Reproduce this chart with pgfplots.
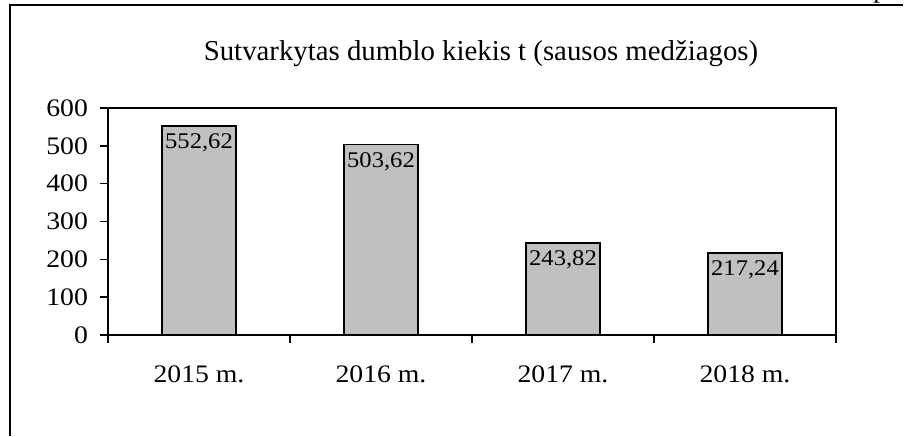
\documentclass[border=0pt]{standalone}
\usepackage{fontspec}
\setmainfont{Liberation Serif}
\newfontfamily\stretchfont{Liberation Serif}[FakeStretch=1.1]
\usepackage{pgfplots}
\usepackage{pgfplotstable}
\pgfplotsset{compat=1.18}
\pgfplotstableread{
x y label
0 552.62 552,62
1 503.62 503,62
2 243.82 243,82
3 217.24 217,24
}\datatable
\begin{document}
\begin{tikzpicture}
\useasboundingbox (0,0) rectangle (456pt,218pt);
\draw[line width=1pt] (5pt,0) -- (5pt,215.5pt) -- (451.5pt,215.5pt);
\node[anchor=base,font=\fontsize{13.5}{16}\selectfont,inner sep=0pt] at (440pt,219.2pt) {p};
\node[anchor=base,font=\fontsize{14.4}{17}\selectfont,inner sep=0pt] at (240.5pt,188pt) {Sutvarkytas dumblo kiekis t (sausos medžiagos)};
\begin{axis}[
  at={(54pt,50.5pt)}, anchor=south west,
  scale only axis, width=364pt, height=113.5pt,
  xmin=-0.5, xmax=3.5, ymin=0, ymax=600,
  ytick={0,100,...,600},
  xtick={-0.5,0.5,1.5,2.5,3.5}, xticklabels={},
  extra x ticks={0,1,2,3},
  extra x tick labels={2015 m.,2016 m.,2017 m.,2018 m.},
  extra x tick style={major tick length=0pt, tick label style={yshift=-12pt}},
  yticklabel style={xshift=-2.5pt},
  tick align=outside, major tick length=4pt,
  xtick pos=bottom, ytick pos=left,
  tick style={black, line width=0.8pt},
  axis line style={black, line width=1pt},
  tick label style={font=\stretchfont\fontsize{12.6}{15}\selectfont},
  /pgf/number format/assume math mode=true,
  ybar, bar width=37pt,
  point meta=explicit symbolic,
  nodes near coords,
  nodes near coords style={anchor=north, inner sep=0pt, yshift=-3.5pt, font=\stretchfont\fontsize{11.2}{14}\selectfont, black},
]
\addplot[fill={rgb,255:red,192;green,192;blue,192}, draw=black, line width=0.8pt]
  table[x=x, y=y, meta=label] {\datatable};
\end{axis}
\end{tikzpicture}
\end{document}
